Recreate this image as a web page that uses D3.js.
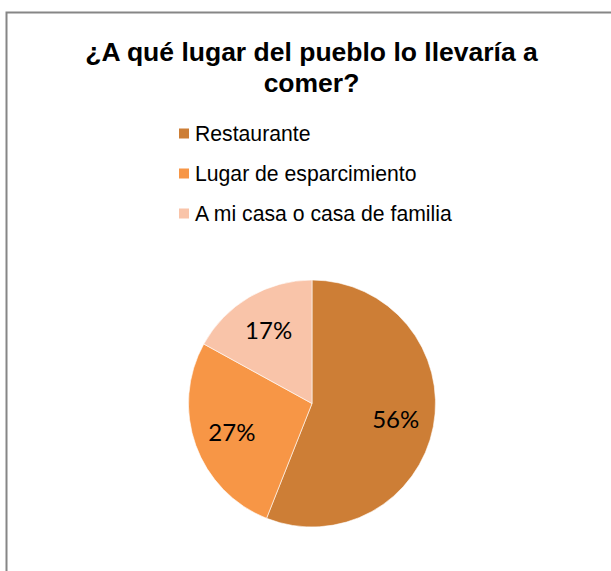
<!DOCTYPE html>
<html>
<head>
<meta charset="utf-8">
<script src="https://d3js.org/d3.v7.min.js"></script>
<style>
  body { margin: 0; background: #fff; }
  svg { display: block; }
</style>
</head>
<body>
<div id="chart"></div>
<script>
// chart data
const categories = ["Restaurante", "Lugar de esparcimiento", "A mi casa o casa de familia"];
const values = [56, 27, 17];
const colors = ["#CD7E36", "#F79646", "#F9C4A9"];
const titleLines = ["¿A qué lugar del pueblo lo llevaría a", "comer?"];

const width = 611, height = 571;

const svg = d3.select("#chart").append("svg")
  .attr("width", width)
  .attr("height", height);

// chart area frame (cut off on the right and bottom)
svg.append("rect")
  .attr("x", 6.5).attr("y", 12.5)
  .attr("width", 700).attr("height", 700)
  .attr("fill", "#fff")
  .attr("stroke", "#868686")
  .attr("stroke-width", 2);

// title
svg.append("text")
  .attr("x", 311.5).attr("y", 61)
  .attr("text-anchor", "middle")
  .attr("font-family", "Liberation Sans, Arial, sans-serif")
  .attr("font-weight", "bold")
  .attr("font-size", 26.5)
  .attr("fill", "#000")
  .selectAll("tspan")
  .data(titleLines)
  .join("tspan")
  .attr("x", 311.5)
  .attr("dy", (d, i) => i === 0 ? 0 : 31)
  .text(d => d);

// legend
const legend = svg.append("g").attr("transform", "translate(179,0)");
const legendY = d3.scalePoint().domain(categories).range([133.5, 213.5]);

const item = legend.selectAll("g")
  .data(categories)
  .join("g")
  .attr("transform", d => `translate(0,${legendY(d)})`);

item.append("rect")
  .attr("x", 0).attr("y", -5)
  .attr("width", 10).attr("height", 10)
  .attr("fill", (d, i) => colors[i]);

item.append("text")
  .attr("x", 16).attr("y", 7)
  .attr("font-family", "Liberation Sans, Arial, sans-serif")
  .attr("font-size", 21.2)
  .attr("fill", "#000")
  .text(d => d);

// pie
const cx = 312, cy = 403.5, r = 123.5;
const pie = d3.pie().sort(null).value(d => d);
const arc = d3.arc().innerRadius(0).outerRadius(r);
const labelArc = d3.arc().innerRadius(r * 0.69).outerRadius(r * 0.69);
const total = d3.sum(values);

const g = svg.append("g").attr("transform", `translate(${cx},${cy})`);
const arcs = pie(values);

g.selectAll("path")
  .data(arcs)
  .join("path")
  .attr("d", arc)
  .attr("fill", (d, i) => colors[i])
  .attr("stroke", "#fff")
  .attr("stroke-width", 0.6);

g.selectAll("text")
  .data(arcs)
  .join("text")
  .attr("transform", d => `translate(${labelArc.centroid(d)})`)
  .attr("text-anchor", "middle")
  .attr("dy", "0.36em")
  .attr("font-family", "Lato, Carlito, sans-serif")
  .attr("font-size", 24)
  .attr("fill", "#000")
  .text(d => Math.round(d.value / total * 100) + "%");
</script>
</body>
</html>
